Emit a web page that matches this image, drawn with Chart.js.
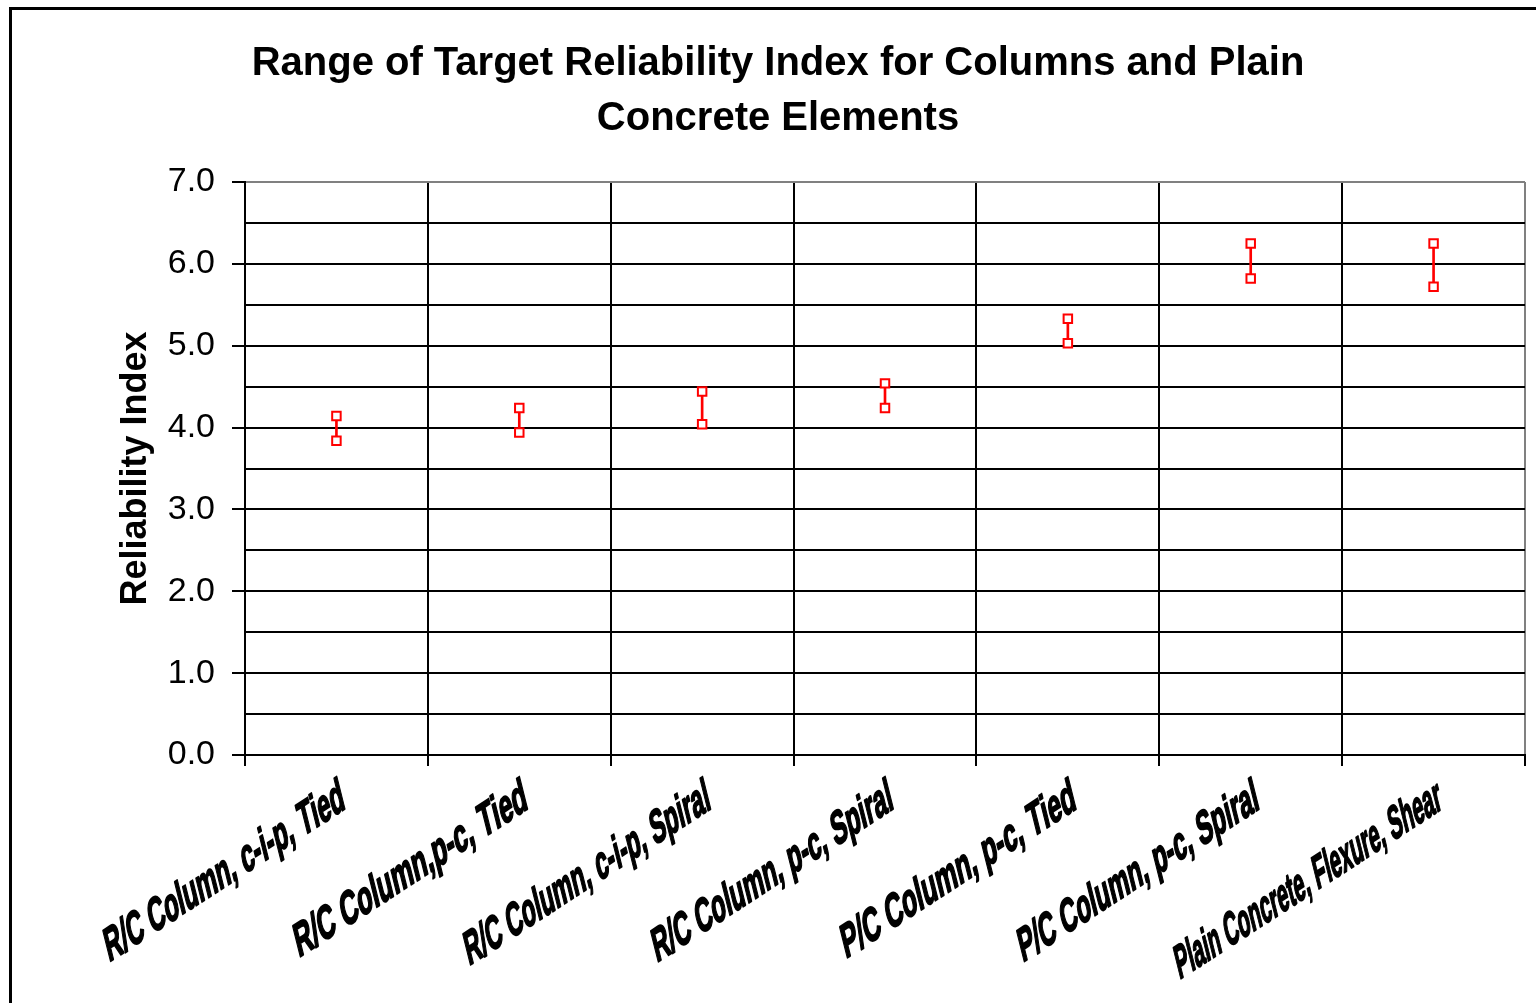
<!DOCTYPE html>
<html>
<head>
<meta charset="utf-8">
<script src="https://cdn.jsdelivr.net/npm/chart.js@4/dist/chart.umd.min.js"></script>
<style>
  html, body { margin: 0; padding: 0; background: #fff; overflow: hidden; }
  #wrap { position: relative; width: 1536px; height: 1003px; }
  #frame { position: absolute; left: 9px; top: 7px; width: 1600px; height: 1100px; border: 3px solid #000; pointer-events: none; }
</style>
</head>
<body>
<div id="wrap">
  <canvas id="chart" width="1536" height="1003"></canvas>
  <div id="frame"></div>
</div>
<script>
// categories and the reliability index range (low / high) for each
const categories = [
  'R/C Column, c-i-p, Tied',
  'R/C Column,p-c, Tied',
  'R/C Column, c-i-p, Spiral',
  'R/C Column, p-c, Spiral',
  'P/C Column, p-c, Tied',
  'P/C Column, p-c, Spiral',
  'Plain Concrete, Flexure, Shear'
];
const highValues = [4.14, 4.24, 4.44, 4.54, 5.33, 6.25, 6.25];
const lowValues  = [3.84, 3.94, 4.04, 4.24, 5.03, 5.82, 5.72];

const rangeData = categories.map((c, i) => [lowValues[i], highValues[i]]);

// squeezed, slanted category labels (long ones squeezed harder)
const slantLabels = {
  id: 'slantLabels',
  afterDraw(chart) {
    const sc = chart.scales.x;
    const c = chart.ctx;
    const base = 33 * Math.PI / 180;   // baseline angle
    const lean = 14 * Math.PI / 180;   // glyph lean
    c.save();
    c.fillStyle = '#000';
    c.strokeStyle = '#000';
    c.lineWidth = 2;
    c.lineJoin = 'round';
    c.font = 'bold 46px "Liberation Sans", Arial, sans-serif';
    c.textAlign = 'right';
    c.textBaseline = 'alphabetic';
    sc.ticks.forEach((t, i) => {
      const txt = categories[i];
      const w = c.measureText(txt).width;
      const sx = (182 + 0.2 * w) / w;
      const x = sc.getPixelForTick(i) + 10;
      const y = sc.top + 53;
      c.save();
      c.translate(x, y);
      c.transform(sx * Math.cos(base), -sx * Math.sin(base), Math.sin(lean), Math.cos(lean), 0, 0);
      c.fillText(txt, 0, 0);
      c.strokeText(txt, 0, 0);
      c.restore();
    });
    c.restore();
  }
};

const ctx = document.getElementById('chart').getContext('2d');
new Chart(ctx, {
  data: {
    labels: categories,
    datasets: [
      {
        type: 'line',
        label: 'High',
        data: highValues,
        showLine: false,
        pointStyle: 'rect',
        pointRadius: 6,
        pointBorderWidth: 2,
        pointBorderColor: '#ff0000',
        pointBackgroundColor: '#ffffff',
        order: 0
      },
      {
        type: 'line',
        label: 'Low',
        data: lowValues,
        showLine: false,
        pointStyle: 'rect',
        pointRadius: 6,
        pointBorderWidth: 2,
        pointBorderColor: '#ff0000',
        pointBackgroundColor: '#ffffff',
        order: 0
      },
      {
        type: 'bar',
        label: 'Range',
        data: rangeData,
        backgroundColor: '#ff0000',
        borderWidth: 0,
        barThickness: 2,
        grouped: false,
        order: 1
      }
    ]
  },
  plugins: [slantLabels],
  options: {
    responsive: false,
    animation: false,
    layout: { padding: { left: 31, right: 11, top: 0, bottom: 0 } },
    plugins: {
      legend: { display: false },
      tooltip: { enabled: false },
      title: {
        display: true,
        text: ['Range of Target Reliability Index for Columns and Plain', 'Concrete Elements'],
        color: '#000',
        font: { family: 'Liberation Sans, Arial, sans-serif', size: 40, weight: 'bold', lineHeight: 1.375 },
        padding: { top: 36, bottom: 36 }
      }
    },
    scales: {
      x: {
        type: 'category',
        offset: true,
        afterFit: (s) => { s.height = 248; },
        grid: {
          offset: true,
          color: (c) => c.tick ? '#000' : '#808080',
          lineWidth: 2,
          tickLength: 11,
          tickColor: '#000'
        },
        border: { color: '#000', width: 2 },
        ticks: {
          color: 'rgba(0,0,0,0)',
          autoSkip: false,
          minRotation: 33,
          maxRotation: 33,
          padding: 2,
          font: { family: 'Liberation Sans, Arial, sans-serif', size: 20, weight: 'bold' }
        }
      },
      y: {
        min: 0,
        max: 7,
        afterFit: (s) => { s.width = 214; },
        grid: {
          color: (c) => (c.tick && c.tick.value === 7) ? '#808080' : '#000',
          lineWidth: 2,
          tickLength: 13,
          tickColor: (c) => (c.tick && Number.isInteger(c.tick.value)) ? '#000' : 'rgba(0,0,0,0)'
        },
        border: { color: '#000', width: 2 },
        ticks: {
          stepSize: 0.5,
          autoSkip: false,
          padding: 17,
          color: '#000',
          font: { family: 'Liberation Sans, Arial, sans-serif', size: 34 },
          callback: (v) => Number.isInteger(v) ? v.toFixed(1) : ''
        },
        title: {
          display: true,
          text: 'Reliability Index',
          color: '#000',
          font: { family: 'Liberation Sans, Arial, sans-serif', size: 36, weight: 'bold' },
          padding: { top: 83, bottom: 0 }
        }
      }
    }
  }
});
</script>
</body>
</html>
